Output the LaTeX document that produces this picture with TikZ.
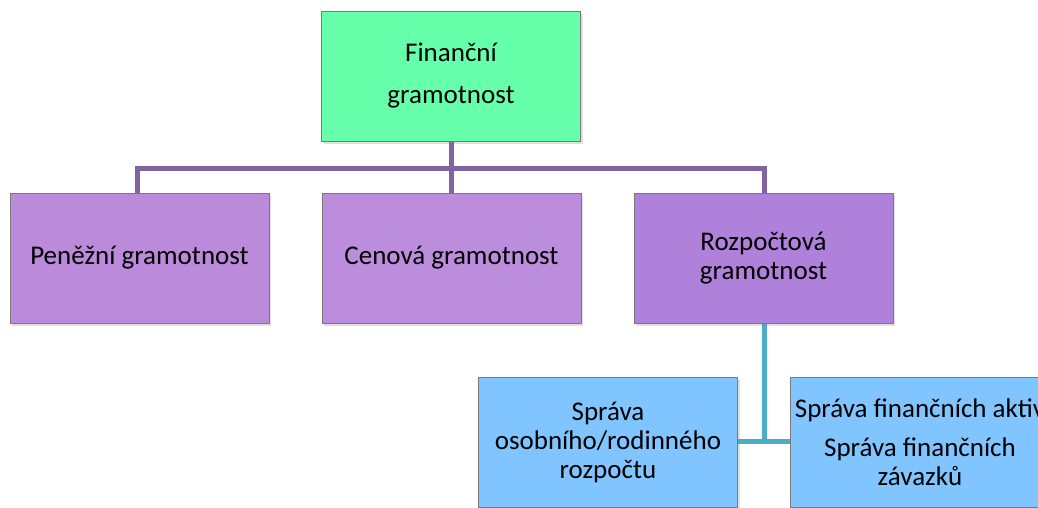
\documentclass[tikz,border=0pt]{standalone}
\usepackage{fontspec}
\setmainfont{Carlito}
\usetikzlibrary{shadows}
\definecolor{topgreen}{HTML}{66FFAA}
\definecolor{purpleA}{HTML}{BC8ADB}
\definecolor{purpleB}{HTML}{BD8DDD}
\definecolor{purpleC}{HTML}{B081DA}
\definecolor{lightblue}{HTML}{80C5FF}
\definecolor{boxborder}{HTML}{7A7A7A}
\definecolor{plinecol}{HTML}{8064A2}
\definecolor{tlinecol}{HTML}{4BACC6}
\begin{document}
\begin{tikzpicture}[x=1pt,y=-1pt,
  box/.style={draw=boxborder, line width=0.8pt, minimum width=259pt, minimum height=130pt,
    align=center, inner sep=0pt, font=\fontsize{27}{29}\selectfont,
    drop shadow={shadow xshift=2pt, shadow yshift=-3pt, opacity=0.25}},
  pline/.style={draw=plinecol, line width=5pt},
  tline/.style={draw=tlinecol, line width=5pt}]
\useasboundingbox (0,0) rectangle (1038,507);
\clip (0,0) rectangle (1038,507);
\coordinate (j) at (451,168);
\draw[pline] (451,140) -- (451,193);
\draw[pline] (137.5,193) |- (j) -| (764,193);
\draw[tline] (764,323) -- (764,441);
\draw[tline] (738,441) -- (790,441);
\node[box, fill=topgreen] (top) at (451,76) {Finanční\\[13pt]gramotnost};
\node[box, fill=purpleA] (b1) at (139.5,258) {Peněžní gramotnost};
\node[box, fill=purpleB] (b2) at (451.5,258) {Cenová gramotnost};
\node[box, fill=purpleC] (b3) at (763.5,258) {Rozpočtová\\gramotnost};
\node[box, fill=lightblue] (c1) at (608,442) {Správa\\osobního/rodinného\\rozpočtu};
\node[box, fill=lightblue] (c2) at (920,442) {Správa finančních aktiv\\[10pt]Správa finančních\\závazků};
\end{tikzpicture}
\end{document}
